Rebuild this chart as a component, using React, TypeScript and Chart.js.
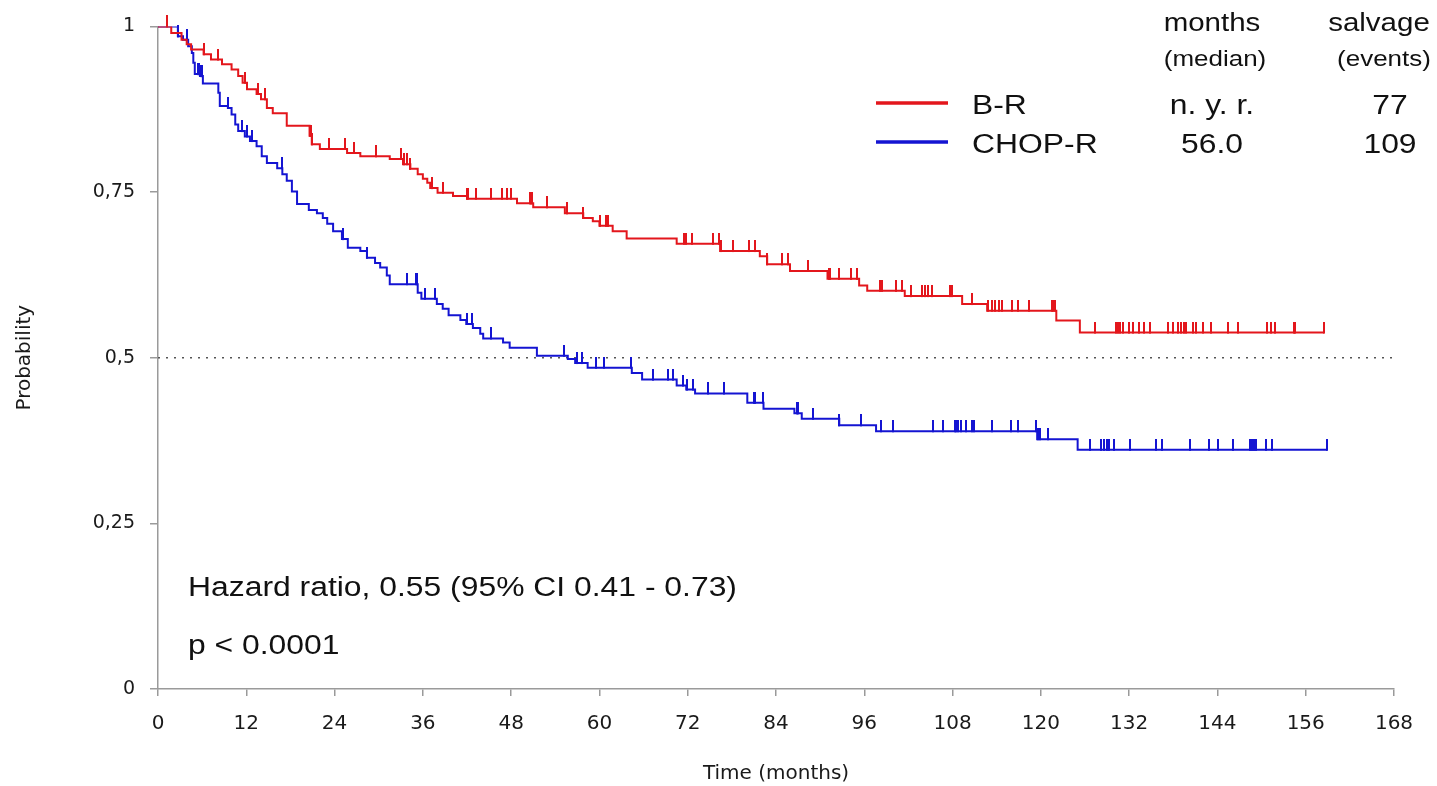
import React, { useEffect, useRef } from "react";
import { Chart, registerables } from "chart.js";

Chart.register(...registerables);

// ---------- data ----------
const xTicks = [0, 12, 24, 36, 48, 60, 72, 84, 96, 108, 120, 132, 144, 156, 168];
const yTicks = [0, 0.25, 0.5, 0.75, 1];

const brTimes = [0, 1.8, 3.2, 3.9, 4.5, 6.2, 7.2, 8.7, 10, 10.9, 11.5, 12.1, 13.4, 14, 14.8, 15.6, 17.5, 20.6, 20.9, 22, 25.7, 27.5, 31.5, 33.3, 34.3, 35.3, 36, 36.6, 37, 38, 40.1, 42, 48.8, 51, 55.3, 57.8, 59.1, 60, 61.8, 63.7, 70.5, 76.4, 81.8, 82.8, 85.9, 91, 95.3, 96.4, 101.5, 109.3, 112.7, 122.1, 125.3, 158.5];
const brSurv = [1, 0.99, 0.98, 0.973, 0.965, 0.958, 0.95, 0.943, 0.935, 0.925, 0.915, 0.905, 0.898, 0.89, 0.877, 0.869, 0.85, 0.835, 0.822, 0.815, 0.809, 0.804, 0.8, 0.792, 0.785, 0.777, 0.77, 0.764, 0.756, 0.749, 0.744, 0.74, 0.733, 0.727, 0.718, 0.711, 0.706, 0.699, 0.691, 0.68, 0.672, 0.661, 0.653, 0.641, 0.631, 0.619, 0.609, 0.601, 0.593, 0.581, 0.571, 0.556, 0.538, 0.538];

const chopTimes = [0, 2.7, 3.4, 4.1, 4.6, 4.8, 5.0, 5.7, 6.1, 8.2, 8.4, 9.5, 10, 10.5, 10.9, 11.8, 12.5, 13.4, 14.1, 14.8, 16.2, 16.9, 17.5, 18.2, 18.9, 20.5, 21.6, 22.4, 23.0, 23.8, 25.0, 25.8, 27.5, 28.4, 29.5, 30.2, 31.1, 31.5, 35.3, 35.8, 37.9, 38.7, 39.5, 41.1, 41.9, 42.8, 43.8, 44.2, 46.9, 47.8, 51.5, 55.7, 56.7, 58.4, 64.4, 65.8, 70.5, 71.8, 73, 80.1, 82.3, 86.5, 87.5, 92.6, 97.6, 119.5, 125, 158.9];
const chopSurv = [1, 0.985, 0.98, 0.97, 0.96, 0.945, 0.928, 0.925, 0.914, 0.9, 0.88, 0.877, 0.867, 0.852, 0.842, 0.834, 0.827, 0.819, 0.804, 0.794, 0.786, 0.777, 0.767, 0.751, 0.732, 0.723, 0.718, 0.711, 0.702, 0.691, 0.679, 0.666, 0.661, 0.651, 0.643, 0.636, 0.624, 0.611, 0.598, 0.589, 0.581, 0.574, 0.564, 0.557, 0.551, 0.545, 0.536, 0.529, 0.523, 0.515, 0.503, 0.498, 0.492, 0.485, 0.477, 0.467, 0.458, 0.452, 0.446, 0.432, 0.423, 0.416, 0.408, 0.398, 0.389, 0.377, 0.361, 0.361];

const brCensored = [1.2, 6.3, 8.2, 11.8, 13.6, 14.5, 20.7, 20.8, 20.9, 23.2, 25.4, 26.6, 29.6, 33.0, 33.4, 33.8, 34.3, 37.3, 38.7, 42.0, 42.1, 43.2, 45.2, 46.7, 47.4, 48.0, 50.6, 50.7, 50.8, 52.9, 55.6, 57.8, 60.1, 60.9, 61.1, 71.5, 71.7, 72.6, 75.4, 76.3, 76.5, 78.2, 80.3, 81.1, 82.8, 84.8, 85.6, 88.3, 91.2, 91.4, 92.6, 94.2, 95.0, 98.2, 98.4, 100.3, 101.1, 102.3, 103.9, 104.3, 104.7, 105.2, 107.7, 107.9, 110.6, 112.8, 113.3, 113.8, 114.3, 114.7, 116.1, 116.9, 118.4, 121.5, 121.7, 121.9, 127.4, 130.2, 130.5, 130.8, 131.1, 132.0, 132.5, 133.3, 134.0, 134.8, 137.3, 137.9, 138.6, 139.0, 139.4, 139.7, 140.7, 141.1, 142.0, 143.1, 145.4, 146.8, 150.7, 151.3, 151.8, 154.4, 154.6, 158.5];
const chopCensored = [2.7, 3.9, 5.4, 5.6, 5.8, 6.0, 9.5, 11.4, 12.1, 12.8, 16.8, 25.1, 28.4, 33.8, 35.0, 35.2, 36.3, 37.7, 42.0, 42.7, 45.2, 55.2, 56.9, 57.6, 59.5, 60.6, 64.3, 67.3, 69.3, 70.0, 71.4, 71.9, 72.7, 74.8, 76.9, 81.0, 81.1, 82.2, 86.8, 87.0, 89.0, 92.6, 95.6, 98.3, 99.9, 105.3, 106.7, 108.3, 108.5, 108.8, 109.1, 109.8, 110.6, 110.9, 113.4, 115.9, 116.9, 119.3, 119.6, 119.9, 121.0, 126.7, 128.2, 128.6, 129.0, 129.3, 130.0, 132.1, 135.7, 136.5, 140.3, 142.9, 144.1, 146.1, 148.4, 148.7, 149.0, 149.2, 150.6, 151.4, 158.9];

const referenceLevel = 0.5;

const seriesNames = ["B-R", "CHOP-R"];
const medians = ["n. y. r.", "56.0"];
const events = ["77", "109"];
const headerTop = ["months", "salvage"];
const headerSub = ["(median)", "(events)"];
const hazardText = "Hazard ratio, 0.55 (95% CI 0.41 - 0.73)";
const pText = "p < 0.0001";

const RED = "#e3161c";
const BLUE = "#1414d2";
const SANS = '"Liberation Sans", Arial, sans-serif';
const AXISFONT = '"DejaVu Sans", Verdana, sans-serif';

function survAt(times: number[], surv: number[], t: number): number {
  let v = surv[0];
  for (let i = 0; i < times.length; i++) {
    if (times[i] <= t) v = surv[i];
    else break;
  }
  return v;
}

function tickImage(color: string): HTMLCanvasElement {
  const c = document.createElement("canvas");
  c.width = 2;
  c.height = 22;
  const g = c.getContext("2d")!;
  g.fillStyle = color;
  g.fillRect(0, 0, 2, 12);
  return c;
}

const annotationPlugin = {
  id: "kmAnnotations",
  afterDraw(chart: any) {
    const ctx: CanvasRenderingContext2D = chart.ctx;
    const sx = 1.18;
    const text = (s: string, x: number, y: number, size: number, align: CanvasTextAlign) => {
      ctx.save();
      ctx.translate(x, y);
      ctx.scale(sx, 1);
      ctx.font = `${size}px ${SANS}`;
      ctx.fillStyle = "#111";
      ctx.textAlign = align;
      ctx.textBaseline = "alphabetic";
      ctx.fillText(s, 0, 0);
      ctx.restore();
    };
    // header
    text(headerTop[0], 1212, 31, 25, "center");
    text(headerTop[1], 1379, 31, 25, "center");
    text(headerSub[0], 1215, 66, 22, "center");
    text(headerSub[1], 1384, 66, 22, "center");
    // legend rows
    const rowY = [114, 153];
    const lineY = [103, 142];
    const colors = [RED, BLUE];
    for (let i = 0; i < 2; i++) {
      ctx.save();
      ctx.strokeStyle = colors[i];
      ctx.lineWidth = 3.5;
      ctx.beginPath();
      ctx.moveTo(876, lineY[i]);
      ctx.lineTo(948, lineY[i]);
      ctx.stroke();
      ctx.restore();
      text(seriesNames[i], 972, rowY[i], 27, "left");
      text(medians[i], 1212, rowY[i], 27, "center");
      text(events[i], 1390, rowY[i], 27, "center");
    }
    // statistics
    text(hazardText, 188, 596, 27, "left");
    text(pText, 188, 654, 27, "left");
  },
};

export default function App() {
  const ref = useRef<HTMLCanvasElement | null>(null);

  useEffect(() => {
    if (!ref.current) return;
    const brLine = brTimes.map((t, i) => ({ x: t, y: brSurv[i] }));
    const chopLine = chopTimes.map((t, i) => ({ x: t, y: chopSurv[i] }));
    const brTicks = brCensored.map((t) => ({ x: t, y: survAt(brTimes, brSurv, t) }));
    const chopTicks = chopCensored.map((t) => ({ x: t, y: survAt(chopTimes, chopSurv, t) }));

    const chart = new Chart(ref.current, {
      type: "scatter",
      data: {
        datasets: [
          {
            label: "B-R censored",
            data: brTicks,
            showLine: false,
            pointStyle: tickImage(RED) as any,
            pointRadius: 5,
            pointHoverRadius: 5,
            clip: false as any,
          },
          {
            label: "B-R",
            data: brLine,
            showLine: true,
            stepped: "before",
            borderColor: RED,
            borderWidth: 2,
            pointRadius: 0,
            fill: false,
          },
          {
            label: "CHOP-R censored",
            data: chopTicks,
            showLine: false,
            pointStyle: tickImage(BLUE) as any,
            pointRadius: 5,
            pointHoverRadius: 5,
            clip: false as any,
          },
          {
            label: "CHOP-R",
            data: chopLine,
            showLine: true,
            stepped: "before",
            borderColor: BLUE,
            borderWidth: 2,
            pointRadius: 0,
            fill: false,
          },
          {
            label: "median",
            data: [
              { x: xTicks[0], y: referenceLevel },
              { x: xTicks[xTicks.length - 1], y: referenceLevel },
            ],
            showLine: true,
            borderColor: "#555",
            borderWidth: 1.6,
            borderDash: [2, 6],
            pointRadius: 0,
          },
        ],
      },
      options: {
        responsive: false,
        animation: false,
        devicePixelRatio: 1,
        layout: { padding: { top: 25, right: 43, left: 0, bottom: 0 } },
        plugins: {
          legend: { display: false },
          tooltip: { enabled: false },
        },
        scales: {
          x: {
            type: "linear",
            min: xTicks[0],
            max: xTicks[xTicks.length - 1],
            afterBuildTicks: (scale: any) => {
              scale.ticks = xTicks.map((v) => ({ value: v }));
            },
            afterFit: (scale: any) => {
              scale.height = 97;
            },
            grid: { drawOnChartArea: false, drawTicks: true, tickLength: 7, color: "#9a9a9a", lineWidth: 1.5 },
            border: { display: true, color: "#9a9a9a", width: 1.5 },
            ticks: {
              padding: 16,
              color: "#1a1a1a",
              font: { family: AXISFONT, size: 20 },
              maxRotation: 0,
              autoSkip: false,
              callback: (v: any) => String(v),
            },
            title: {
              display: true,
              text: "Time (months)",
              color: "#1a1a1a",
              font: { family: AXISFONT, size: 20 },
              padding: { top: 0, bottom: 0 },
            },
          },
          y: {
            type: "linear",
            min: yTicks[0],
            max: yTicks[yTicks.length - 1],
            afterBuildTicks: (scale: any) => {
              scale.ticks = yTicks.map((v) => ({ value: v }));
            },
            afterFit: (scale: any) => {
              scale.width = 158;
            },
            grid: { drawOnChartArea: false, drawTicks: true, tickLength: 8, color: "#9a9a9a", lineWidth: 1.5 },
            border: { display: true, color: "#9a9a9a", width: 1.5 },
            ticks: {
              padding: 15,
              color: "#1a1a1a",
              font: { family: AXISFONT, size: 19 },
              autoSkip: false,
              callback: (v: any) => String(v).replace(".", ","),
            },
            title: {
              display: true,
              text: "Probability",
              color: "#1a1a1a",
              font: { family: AXISFONT, size: 20 },
              padding: { top: 13, bottom: 0 },
            },
          },
        },
      },
      plugins: [annotationPlugin],
    } as any);

    return () => chart.destroy();
  }, []);

  return (
    <div style={{ position: "fixed", left: 0, top: 0, width: 1437, height: 786, background: "#fff" }}>
      <canvas ref={ref} width={1437} height={786} style={{ width: 1437, height: 786, display: "block" }} />
    </div>
  );
}
